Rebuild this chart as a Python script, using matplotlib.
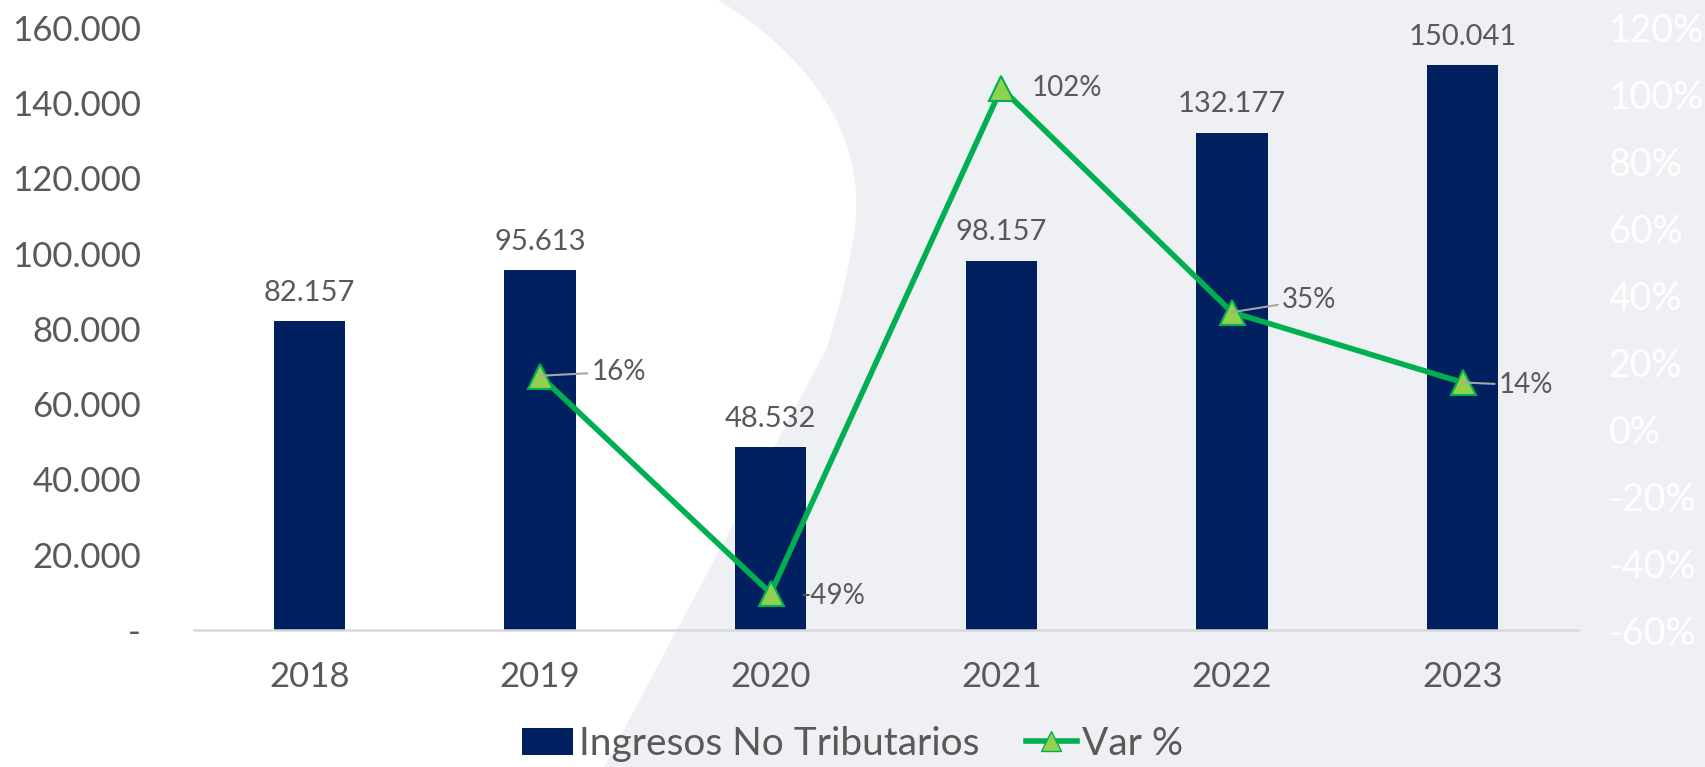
import matplotlib.pyplot as plt
from matplotlib.path import Path
from matplotlib.patches import PathPatch
from matplotlib.lines import Line2D
from matplotlib.patches import Patch

years = ["2018", "2019", "2020", "2021", "2022", "2023"]
ingresos = [82157, 95613, 48532, 98157, 132177, 150041]
var_years = [1, 2, 3, 4, 5]
var_pct = [16, -49, 102, 35, 14]

navy = "#00205f"
green = "#00b050"
light_green = "#92d050"
txt = "#595959"
bg = "#eff0f4"

plt.rcParams['font.family'] = ['Lato', 'DejaVu Sans']
plt.rcParams['font.weight'] = 'normal'

fig = plt.figure(figsize=(17.06, 7.67), dpi=100, facecolor=bg)

# white decorative shape on the left, on its own background axes
bgax = fig.add_axes([0, 0, 1, 1], zorder=-1)
bgax.set_xlim(0, 1706)
bgax.set_ylim(767, 0)
bgax.axis("off")
verts = [(0, 0), (718, 0),
         (800, 50), (870, 130), (854, 234),
         (845, 290), (835, 320), (827, 348),
         (604, 767), (0, 767), (0, 0)]
codes = [Path.MOVETO, Path.LINETO,
         Path.CURVE4, Path.CURVE4, Path.CURVE4,
         Path.CURVE4, Path.CURVE4, Path.CURVE4,
         Path.LINETO, Path.LINETO, Path.CLOSEPOLY]
bgax.add_patch(PathPatch(Path(verts, codes), facecolor="white", edgecolor="none"))

ax = fig.add_axes([0.1137, 0.1786, 0.8113, 0.785])
ax.patch.set_alpha(0)
x = list(range(len(years)))
ax.bar(x, ingresos, width=0.31, color=navy, zorder=2)
ax.set_xlim(-0.5, 5.5)
ax.set_ylim(0, 160000)
ax.set_yticks(range(0, 160001, 20000))
ax.set_yticklabels(["-"] + [f"{v:,}".replace(",", ".") for v in range(20000, 160001, 20000)])
ax.set_xticks(x)
ax.set_xticklabels(years)
ax.tick_params(axis="both", length=0, labelsize=25, colors=txt)
ax.tick_params(axis="x", pad=22)
ax.tick_params(axis="y", pad=38)
for s in ["top", "right", "left"]:
    ax.spines[s].set_visible(False)
ax.spines["bottom"].set_color("#d9d9d9")
ax.spines["bottom"].set_linewidth(1.8)

for xi, v in zip(x, ingresos):
    ax.annotate(f"{v:,}".replace(",", "."), (xi, v), xytext=(0, 11),
                textcoords="offset points", ha="center", va="bottom",
                fontsize=21, color=txt)

ax2 = ax.twinx()
ax2.set_ylim(-60, 120)
ax2.set_yticks(range(-60, 121, 20))
ax2.set_yticklabels([f"{v}%" for v in range(-60, 121, 20)])
ax2.tick_params(axis="y", length=0, labelsize=27, colors="white", pad=22)
for s in ax2.spines.values():
    s.set_visible(False)
ax2.plot(var_years, var_pct, color=green, lw=4, marker="^", markersize=18,
         markerfacecolor=light_green, markeredgecolor=green, markeredgewidth=1.5, zorder=3)

offsets = [(37, 3, True), (21, -2, False), (22, 0, False), (36, 9, True), (26, -2, True)]
for xi, v, (dx, dy, lead) in zip(var_years, var_pct, offsets):
    props = dict(arrowstyle="-", color="#a6a6a6", lw=1.5, shrinkA=1, shrinkB=0) if lead else None
    ax2.annotate(f"{v}%", (xi, v), xytext=(dx, dy), textcoords="offset points",
                 ha="left", va="center", fontsize=20, color=txt, arrowprops=props)

handles = [Patch(facecolor=navy), Line2D([], [], color=green, lw=4, marker="^", markersize=15,
                                         markerfacecolor=light_green, markeredgecolor=green)]
fig.legend(handles, ["Ingresos No Tributarios", "Var %"], loc="center", bbox_to_anchor=(0.5, 0.03),
           ncol=2, frameon=False, fontsize=28, labelcolor=txt, handlelength=1.3,
           handletextpad=0.15, columnspacing=1.2)

fig.savefig("out.png", dpi=100, facecolor=bg)
